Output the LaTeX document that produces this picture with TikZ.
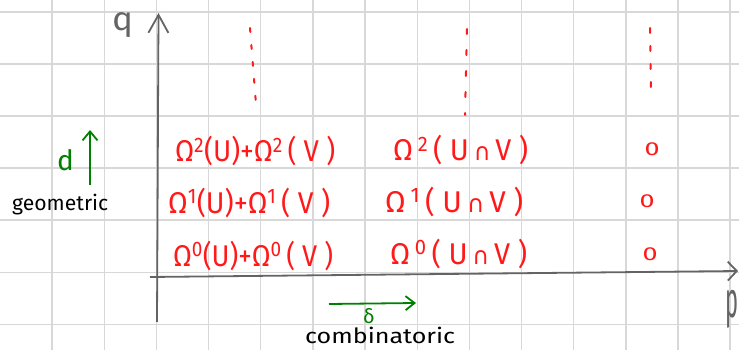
\documentclass[tikz,border=0pt]{standalone}
\usepackage{fontspec}
\setmainfont{Fira Sans}
\newfontfamily\dejavu{DejaVu Sans}
\usetikzlibrary{arrows.meta}
\definecolor{gridc}{RGB}{216,216,216}
\definecolor{axisc}{RGB}{100,100,100}
\definecolor{hred}{RGB}{255,25,25}
\definecolor{hgreen}{RGB}{0,128,0}
\newcommand{\fitw}[2]{\resizebox{#1}{\height}{#2}}
\newcommand{\capsym}{{\dejavu\fontsize{24}{24}\selectfont ∩}}
\tikzset{
  gridline/.style={draw=gridc,line width=1.4pt},
  axisline/.style={draw=axisc,line width=1.8pt},
  redform/.style={text=hred,font=\fontsize{30}{32}\selectfont,inner sep=0pt,anchor=base west},
  zeronode/.style={text=hred,font=\fontsize{20}{20}\selectfont,inner sep=0pt},
  reddots/.style={draw=hred,line width=2pt,line cap=round},
  greenarrow/.style={draw=hgreen,line width=1.8pt},
  handtext/.style={inner sep=0pt,anchor=base west,font=\fontsize{21}{21}\selectfont},
}
\begin{document}
\begin{tikzpicture}[x=1pt,y=-1pt]
\useasboundingbox (0,0) rectangle (739,350);
\fill[white] (0,0) rectangle (739,350);
% grid
\foreach \i in {1,...,14} \draw[gridline] (52.15*\i,0) -- (52.15*\i,350);
\foreach \j in {0,...,6} \draw[gridline] (0,11.9+52.07*\j) -- (739,11.9+52.07*\j);
% axes
\coordinate (yb) at (157,322);
\coordinate (yt) at (158.5,13);
\coordinate (xl) at (150,277);
\coordinate (xr) at (738,271);
\draw[axisline,-{Straight Barb[length=18pt,width=20pt]}] (yb) -- (yt);
\draw[axisline,-{Straight Barb[length=9pt,width=19pt]}] (xl) -- (xr);
\node[anchor=north west,text=axisc,inner sep=0pt] (q) at (112,12) {\resizebox*{21pt}{25pt}{q}};
\node[anchor=north west,text=axisc,inner sep=0pt] (p) at (725,290) {\resizebox*{13pt}{38pt}{p}};
% red forms, column 1
\node[redform] (a2) at (175,162) {\fitw{160pt}{Ω\textsuperscript{2}(U)+Ω\textsuperscript{2}\,( V )}};
\node[redform] (a1) at (168,213) {\fitw{162pt}{Ω\textsuperscript{1}(U)+Ω\textsuperscript{1}\,( V )}};
\node[redform] (a0) at (173,266) {\fitw{160pt}{Ω\textsuperscript{0}(U)+Ω\textsuperscript{0}\,( V )}};
% column 2
\node[redform] (b2) at (393,161) {\fitw{135pt}{Ω\,\textsuperscript{2}\,( U\,\capsym\,V )}};
\node[redform] (b1) at (385,212) {\fitw{138pt}{Ω\,\textsuperscript{1}\,( U\,\capsym\,V )}};
\node[redform] (b0) at (390,264) {\fitw{137pt}{Ω\,\textsuperscript{0}\,( U\,\capsym\,V )}};
% column 3
\node[zeronode] (c2) at (652,149) {\resizebox*{15pt}{13pt}{0}};
\node[zeronode] (c1) at (647,201) {\resizebox*{15pt}{13pt}{0}};
\node[zeronode] (c0) at (650,254) {\resizebox*{15pt}{13pt}{0}};
% vertical dots
\coordinate (d1t) at (250,28);
\coordinate (d1b) at (256,104);
\coordinate (d2t) at (467,29);
\coordinate (d2b) at (465,115);
\coordinate (d3t) at (650,28);
\coordinate (d3b) at (651,99);
\draw[reddots,dash pattern=on 4pt off 13pt] (d1t) -- (d1b);
\draw[reddots,dash pattern=on 5pt off 16pt] (d2t) -- (d2b);
\draw[reddots,dash pattern=on 5pt off 13pt] (d3t) -- (d3b);
% geometric direction
\node[handtext,text=hgreen,font=\fontsize{28}{28}\selectfont] (d) at (57,171) {d};
\coordinate (da) at (90,185);
\coordinate (db) at (90,130);
\draw[greenarrow,-{Straight Barb[length=9pt,width=15pt]}] (da) -- (db);
\node[handtext] (geo) at (12,211) {\fitw{96pt}{geometric}};
% combinatoric direction
\coordinate (ea) at (329,304);
\coordinate (eb) at (416,303);
\draw[greenarrow,-{Straight Barb[length=9pt,width=14pt]}] (ea) -- (eb);
\node[handtext,text=hgreen,font=\fontsize{20}{20}\selectfont] (delta) at (363,323) {δ};
\node[handtext] (comb) at (305,343) {\fitw{150pt}{combinatoric}};
\end{tikzpicture}
\end{document}
